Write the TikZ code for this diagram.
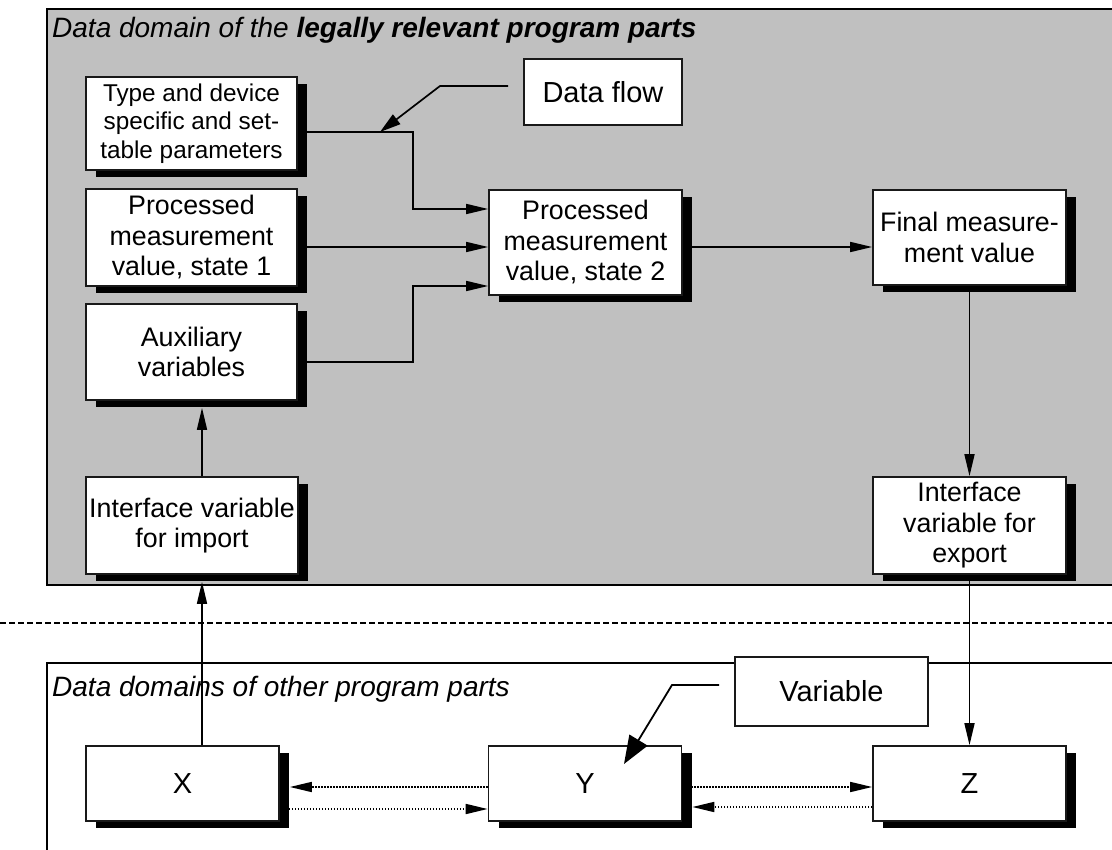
\documentclass[tikz,border=0pt]{standalone}
\usepackage{fontspec}
\setmainfont{Liberation Sans}
\usetikzlibrary{arrows.meta,shadows,calc}
\pgfdeclarelayer{bg}
\pgfdeclarelayer{edges}
\pgfsetlayers{bg,edges,main}
\definecolor{panelgray}{RGB}{192,192,192}
\begin{document}
\begin{tikzpicture}[x=1pt,y=-1pt,
  box/.style={draw=black!90, line width=1.7pt, fill=white, inner sep=0pt, align=center,
    font=\fontsize{26.8}{30.5}\selectfont,
    drop shadow={shadow xshift=10pt,shadow yshift=-7pt,fill=black,opacity=1}},
  plainbox/.style={draw=black!90, line width=1.7pt, fill=white, inner sep=0pt, align=center,
    font=\fontsize{29}{33}\selectfont},
  xyzbox/.style={box, font=\fontsize{29}{33}\selectfont, minimum width=193pt, minimum height=75pt},
  conn/.style={line width=1.7pt, -{Triangle[length=22pt,width=10pt]}},
  dots/.style={conn, dash pattern=on 1.5pt off 1.5pt},
  leader/.style={line width=1.7pt, -{Triangle[length=21pt,width=12pt]}},
  bigleader/.style={line width=1.8pt, -{Triangle[length=28pt,width=21pt]}},
  paneltitle/.style={anchor=base west, inner sep=0pt, font=\fontsize{28}{32}\selectfont\itshape},
  sep/.style={line width=1.5pt, dash pattern=on 6pt off 3pt},
  panel/.style={line width=2pt}
]
\useasboundingbox (0,0) rectangle (1112,850);

% panels
\begin{pgfonlayer}{bg}
  \fill[white] (0,0) rectangle (1112,850);
  \fill[panelgray] (47,9) rectangle (1112,585);
  \draw[panel] (1112,9) -- (47,9) -- (47,585) -- (1112,585);
  \draw[panel] (1112,663) -- (47,663) -- (47,850);
  \draw[sep] (0,623) -- (1112,623);
\end{pgfonlayer}

\node[paneltitle] (t1) at (52,38) {Data domain of the \textbf{legally relevant program parts}};
\node[paneltitle] (t2) at (52,696) {Data domains of other program parts};

% boxes
\node[box, minimum width=211pt, minimum height=93pt, font=\fontsize{24.3}{28.5}\selectfont] (type) at (191.5,123.5) {Type and device\\specific and set-\\table parameters};
\node[box, minimum width=211pt, minimum height=97pt] (s1) at (191.5,237.5) {Processed\\measurement\\value, state 1};
\node[box, minimum width=211pt, minimum height=96pt] (aux) at (191.5,352) {Auxiliary\\variables};
\node[box, minimum width=212pt, minimum height=97pt] (imp) at (192,525.5) {Interface variable\\for import};
\node[box, minimum width=193pt, minimum height=105pt] (s2) at (585.5,242.5) {Processed\\measurement\\value, state 2};
\node[box, minimum width=193pt, minimum height=95pt] (fin) at (969.5,237.5) {Final measure-\\ment value};
\node[box, minimum width=193pt, minimum height=97pt] (exp) at (969.5,525.5) {Interface\\variable for\\export};
\node[plainbox, minimum width=158pt, minimum height=66pt] (df) at (603,92) {Data flow};
\node[plainbox, minimum width=193pt, minimum height=69pt] (var) at (831.5,691.5) {Variable};
\node[xyzbox] (X) at (182.5,783.5) {X};
\node[xyzbox] (Y) at (585,783.5) {Y};
\node[xyzbox] (Z) at (969.5,783.5) {Z};

% helper coordinates
\coordinate (vx) at (413,0);
\coordinate (cx) at (202,0);
\coordinate (y132) at (0,132);
\coordinate (y209) at (0,209);
\coordinate (y247) at (0,247);
\coordinate (y286) at (0,286);
\coordinate (y362) at (0,362);
\coordinate (y787) at (0,787);
\coordinate (y809) at (0,809);
\coordinate (y807) at (0,807);

\begin{pgfonlayer}{edges}
  \draw[conn] (type.east |- y132) -- (vx |- y132) -- (vx |- y209) -- (s2.west |- y209);
  \draw[conn] (s1.east |- y247) -- (s2.west |- y247);
  \draw[conn] (aux.east |- y362) -- (vx |- y362) -- (vx |- y286) -- (s2.west |- y286);
  \draw[conn] (s2.east |- y247) -- (fin.west |- y247);
  \draw[conn] (fin.south) -- (exp.north);
  \draw[conn] (imp.north -| cx) -- ($(aux.south -| cx)+(0,7)$);
  \draw[conn] (X.north -| cx) -- ($(imp.south -| cx)+(0,7)$);
  \draw[conn] (exp.south) -- (Z.north);
  \draw[dots] (Y.west |- y787) -- ($(X.east |- y787)+(10,0)$);
  \draw[dots] (X.east |- y809) -- (Y.west |- y809);
  \draw[dots] (Y.east |- y787) -- (Z.west |- y787);
  \draw[dots] (Z.west |- y807) -- ($(Y.east |- y807)+(10,0)$);
\end{pgfonlayer}

% leaders
\coordinate (dfk) at (440,86);
\coordinate (dft) at (380,132);
\draw[leader] ($(df.west)+(-15,-6)$) -- (dfk) -- (dft);
\coordinate (vk) at (672,685);
\coordinate (vt) at (624,764);
\draw[bigleader] ($(var.west)+(-15,-6.5)$) -- (vk) -- (vt);
\end{tikzpicture}
\end{document}
